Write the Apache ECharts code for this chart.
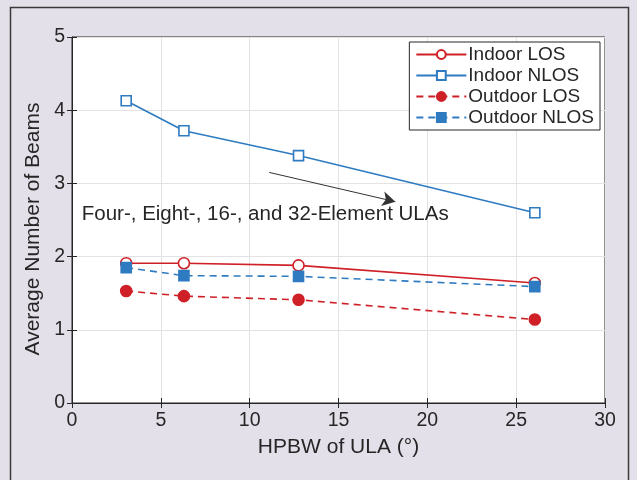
<!DOCTYPE html>
<html>
<head>
<meta charset="utf-8">
<script src="https://cdn.jsdelivr.net/npm/echarts@6/dist/echarts.min.js"></script>
<style>
  html, body { margin: 0; padding: 0; background: #e4e0ea; }
  #chart { width: 637px; height: 480px; }
</style>
</head>
<body>
<div id="chart"></div>
<script>
// HPBW of the 32-, 16-, 8- and 4-element ULAs (degrees)
const hpbw = [3.05, 6.3, 12.75, 26.05];
const indoorLos = [1.91, 1.91, 1.88, 1.64];
const indoorNlos = [4.13, 3.72, 3.38, 2.6];
const outdoorLos = [1.53, 1.46, 1.41, 1.14];
const outdoorNlos = [1.85, 1.74, 1.73, 1.59];
const xTicks = [0, 5, 10, 15, 20, 25, 30];
const yTicks = [0, 1, 2, 3, 4, 5];
const arrowFrom = [11.1, 3.15];
const arrowTo = [18.2, 2.75];
const noteAt = [0.55, 2.58];
const noteText = 'Four-, Eight-, 16-, and 32-Element ULAs';

const RED = '#cf2027';
const BLUE = '#2f7bc2';
const INK = '#262626';
const FONT = '"Liberation Sans", Arial, sans-serif';

const pairs = (ys) => hpbw.map((x, i) => [x, ys[i]]);

const chart = echarts.init(document.getElementById('chart'));

const lineSeries = (name, ys, color, dashed, symbol, filled) => ({
  name,
  type: 'line',
  data: pairs(ys),
  symbol,
  symbolSize: symbol === 'rect' ? 10 : 11,
  showSymbol: true,
  lineStyle: { color, width: 1.6, type: dashed ? [7, 5] : 'solid' },
  itemStyle: { color: filled ? color : '#ffffff', borderColor: color, borderWidth: 1.6 },
  emphasis: { disabled: true },
  z: 3,
});

// extra axes only carry the inward ticks on the edges
const tickAxis = (pos, isX) => ({
  type: 'value',
  position: pos,
  min: isX ? xTicks[0] : yTicks[0],
  max: isX ? xTicks[xTicks.length - 1] : yTicks[yTicks.length - 1],
  interval: isX ? 5 : 1,
  axisLine: { show: false },
  axisTick: { show: true, inside: true, length: 5, lineStyle: { color: INK, width: 1 } },
  axisLabel: { show: false },
  splitLine: { show: false },
});

const border = {
  type: 'rect',
  z: -10,
  shape: { x: 10.5, y: 7.5, width: 618, height: 500 },
  style: { fill: 'none', stroke: '#3a3a3a', lineWidth: 1.5 },
  silent: true,
};

chart.setOption({
  animation: false,
  backgroundColor: '#e4e0ea',
  textStyle: { fontFamily: FONT },
  graphic: [border],
  grid: {
    left: 72, right: 32, top: 37, bottom: 77,
    show: true,
    backgroundColor: '#ffffff',
    borderColor: INK,
    borderWidth: 1,
  },
  legend: {
    orient: 'vertical',
    right: 37,
    top: 42,
    backgroundColor: '#ffffff',
    borderColor: INK,
    borderWidth: 1,
    padding: [3, 6, 3, 6],
    itemGap: 2,
    itemWidth: 50,
    itemHeight: 11,
    textStyle: { fontSize: 19, color: INK, fontFamily: FONT, padding: [0, 0, 0, -3] },
    data: ['Indoor LOS', 'Indoor NLOS', 'Outdoor LOS', 'Outdoor NLOS'],
  },
  xAxis: [
    {
      type: 'value',
      min: 0, max: 30, interval: 5,
      name: 'HPBW of ULA (°)',
      nameLocation: 'middle',
      nameGap: 34,
      nameTextStyle: { fontSize: 21, color: INK },
      axisLine: { show: true, lineStyle: { color: INK, width: 1 } },
      axisTick: { show: true, inside: true, length: 5, lineStyle: { color: INK } },
      axisLabel: { fontSize: 19.5, color: INK, margin: 8 },
      splitLine: { show: true, lineStyle: { color: '#e3e3e3', width: 1 } },
    },
    tickAxis('top', true),
  ],
  yAxis: [
    {
      type: 'value',
      min: 0, max: 5, interval: 1,
      name: 'Average Number of Beams',
      nameLocation: 'middle',
      nameGap: 27,
      nameTextStyle: { fontSize: 21, color: INK, padding: [0, 18, 0, 0] },
      axisLine: { show: true, lineStyle: { color: INK, width: 1 } },
      axisTick: { show: false },
      axisLabel: { fontSize: 19.5, color: INK, margin: 7 },
      splitLine: { show: true, lineStyle: { color: '#e3e3e3', width: 1 } },
    },
    tickAxis('right', false),
    tickAxis('left', false),
  ],
  series: [
    lineSeries('Indoor LOS', indoorLos, RED, false, 'circle', false),
    lineSeries('Indoor NLOS', indoorNlos, BLUE, false, 'rect', false),
    lineSeries('Outdoor LOS', outdoorLos, RED, true, 'circle', true),
    lineSeries('Outdoor NLOS', outdoorNlos, BLUE, true, 'rect', true),
    {
      name: 'annotation',
      type: 'line',
      data: [],
      silent: true,
      markLine: {
        silent: true,
        symbol: ['none', 'arrow'],
        symbolSize: [11, 13],
        label: { show: false },
        lineStyle: { color: '#333333', width: 1, type: 'solid' },
        data: [[{ coord: arrowFrom }, { coord: arrowTo }]],
      },
    },
  ],
});

const p = chart.convertToPixel({ gridIndex: 0 }, noteAt);
chart.setOption({
  graphic: [
    border,
    {
      type: 'text',
      x: p[0],
      y: p[1],
      z: 10,
      style: {
        text: noteText,
        fill: INK,
        font: '20.5px ' + FONT,
        verticalAlign: 'middle',
      },
      silent: true,
    },
  ],
});
</script>
</body>
</html>
